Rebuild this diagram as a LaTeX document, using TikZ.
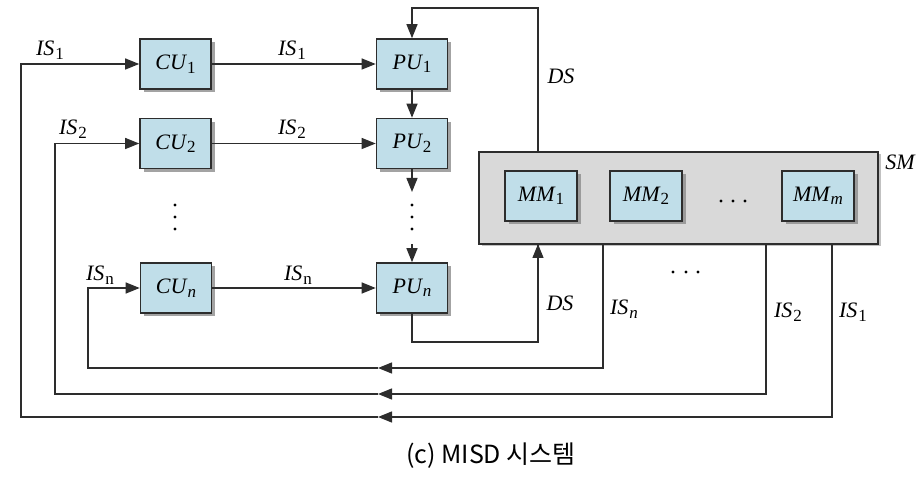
\documentclass[tikz,border=0pt]{standalone}
\usepackage{fontspec}
\setmainfont{Liberation Serif}
\newfontfamily\capfont{Noto Sans CJK KR}
\newfontfamily\lblfont{Liberation Serif}
\usetikzlibrary{arrows.meta,shadows}
\definecolor{boxblue}{RGB}{192,222,233}
\definecolor{smgray}{RGB}{217,217,217}
\definecolor{linec}{RGB}{45,45,45}
\newcommand\vv[2]{{\itshape #1}\kern1pt\raisebox{-3.5pt}{\fontsize{17}{17}\selectfont #2}}
\tikzset{
  box/.style={draw=linec, line width=1.6pt, fill=boxblue, minimum width=71pt, minimum height=50pt,
    inner sep=0pt, drop shadow={shadow xshift=3.5pt, shadow yshift=-3.5pt, fill=black!45, opacity=0.8},
    font=\lblfont\fontsize{22}{24}\selectfont},
  smbox/.style={draw=linec, line width=1.6pt, fill=smgray, minimum width=399pt, minimum height=92pt,
    inner sep=0pt, drop shadow={shadow xshift=2.5pt, shadow yshift=-2.5pt, fill=black!30, opacity=0.8}},
  lbl/.style={inner sep=0pt, font=\lblfont\fontsize{22}{24}\selectfont},
  conn/.style={draw=linec, line width=1.3pt},
  arr/.style={conn, -{Triangle[length=14pt,width=11pt]}},
  dotc/.style={fill=black}
}
\begin{document}
\begin{tikzpicture}[x=1pt,y=-1pt]
\useasboundingbox (0,0) rectangle (924,478);
% boxes
\node[box] (CU1) at (175.5,64) {\vv{CU}{1}};
\node[box] (CU2) at (175.5,143.5) {\vv{CU}{2}};
\node[box] (CUn) at (176,288) {\vv{CU}{\itshape n}};
\node[box] (PU1) at (412,64) {\vv{PU}{1}};
\node[box] (PU2) at (412,143.5) {\vv{PU}{2}};
\node[box] (PUn) at (412,288) {\vv{PU}{\itshape n}};
\node[smbox] (SM) at (678.5,198) {};
\node[box, minimum width=72pt] (MM1) at (541,196) {\vv{MM}{1}};
\node[box, minimum width=72pt] (MM2) at (646,196) {\vv{MM}{2}};
\node[box, minimum width=72pt] (MMm) at (818,196) {\vv{MM}{\itshape m}};
% coordinates
\coordinate (s1) at (832,244);
\coordinate (s2) at (766,244);
\coordinate (sn) at (603,244);
\coordinate (dsb) at (538,244);
\coordinate (dst) at (538,152);
\coordinate (dtop) at (538,8);
\coordinate (pb) at (413,342);
\coordinate (t1) at (378,417);
\coordinate (t2) at (378,394);
\coordinate (tn) at (378,368);
\coordinate (l1) at (21,417);
\coordinate (l2) at (55,394);
\coordinate (ln) at (88,368);
\coordinate (pd1) at (412,192);
\coordinate (pd2) at (412,244);
% CU -> PU
\draw[arr] (CU1) -- (PU1);
\draw[arr] (CU2) -- (PU2);
\draw[arr] (CUn) -- (PUn);
% PU chain
\draw[arr] (PU1) -- (PU2);
\draw[arr] (PU2) -- (pd1);
\draw[arr] (pd2) -- (PUn);
% DS
\draw[arr] (dst) -- (dtop) -| (PU1.north);
\draw[conn] (PUn.south) |- (pb) -| (dsb);
\draw[arr] (538,342) -- (dsb);
% feedback IS
\draw[arr] (s1) |- (t1);
\draw[arr] (t1) -- (l1) |- (CU1.west);
\draw[arr] (s2) |- (t2);
\draw[arr] (t2) -- (l2) |- (CU2.west);
\draw[arr] (sn) |- (tn);
\draw[arr] (tn) -- (ln) |- (CUn.west);
% dots
\foreach \yy in {205,217,229} {\fill[dotc] (175,\yy) circle (1.7pt); \fill[dotc] (412,\yy) circle (1.7pt);}
\foreach \xx in {673,686,698} {\fill[dotc] (\xx,272) circle (1.7pt);}
\foreach \xx in {721,733,745} {\fill[dotc] (\xx,201) circle (1.7pt);}
% labels
\node[lbl] (a1) at (50,50) {\vv{IS}{1}};
\node[lbl] (a2) at (73,129) {\vv{IS}{2}};
\node[lbl] (an) at (100,275) {\vv{IS}{n}};
\node[lbl] (b1) at (292,50) {\vv{IS}{1}};
\node[lbl] (b2) at (292,129) {\vv{IS}{2}};
\node[lbl] (bn) at (298,275) {\vv{IS}{n}};
\node[lbl] (ds1) at (561,76) {\itshape DS};
\node[lbl] (ds2) at (560,303) {\itshape DS};
\node[lbl] (cn) at (624,309) {\vv{IS}{\itshape n}};
\node[lbl] (c2) at (788,312) {\vv{IS}{2}};
\node[lbl] (c1) at (853,312) {\vv{IS}{1}};
\node[lbl] (sml) at (900,162) {\itshape SM};
% caption
\node[inner sep=0pt] (cap) at (491,456) {\capfont\fontsize{25}{28}\selectfont (c) MISD 시스템};
\end{tikzpicture}
\end{document}
